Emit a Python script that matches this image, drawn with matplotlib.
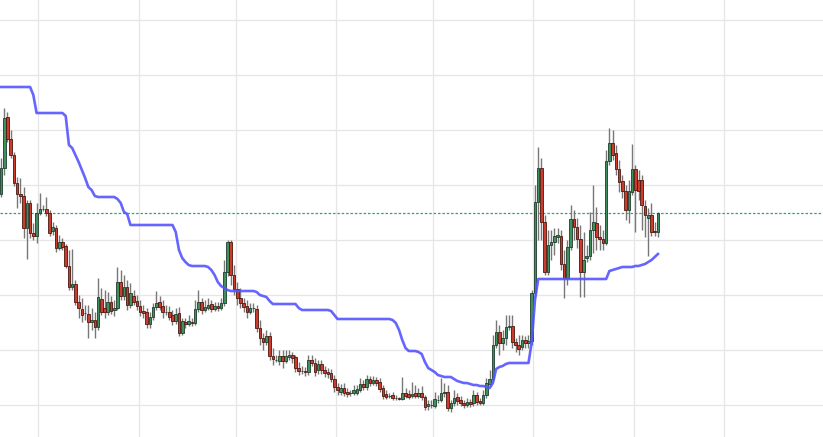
"""Daily candles with a trailing-stop line, no axis labels."""

import matplotlib
matplotlib.use("Agg")
import matplotlib.pyplot as plt
import matplotlib.dates as mdates
from matplotlib.ticker import MultipleLocator
import numpy as np
import pandas as pd

START = "2022-07-20"

opens = [
    26.6, 29.2, 34.3, 32.1, 30.5, 27.7, 26.6, 26.4, 23.2, 25.7,
    22.7, 22.4, 24.7, 25.1, 25.1, 24.7, 22.9, 23.2, 21.2, 21.8,
    21.4, 19.4, 17.3, 17.6, 15.8, 15.1, 14.7, 14.6, 13.8, 14.0,
    13.3, 16.1, 15.2, 14.8, 15.8, 15.0, 15.2, 17.8, 16.4, 17.3,
    15.5, 16.4, 15.9, 15.4, 14.9, 14.8, 13.6, 14.3, 15.3, 15.8,
    15.4, 14.8, 14.8, 14.5, 13.9, 14.7, 12.7, 13.8, 13.6, 13.8,
    13.7, 15.1, 15.8, 15.0, 15.2, 15.6, 15.1, 15.4, 15.2, 15.7,
    18.8, 21.8, 18.5, 17.1, 16.2, 15.7, 15.4, 14.8, 15.2, 15.1,
    13.2, 12.2, 11.8, 12.4, 10.4, 10.0, 9.9, 10.4, 9.9, 10.3,
    10.5, 10.3, 9.2, 8.9, 8.9, 8.8, 10.0, 9.7, 9.0, 9.6,
    9.0, 8.8, 8.7, 8.1, 7.3, 6.8, 7.2, 6.8, 6.7, 6.7,
    6.7, 7.0, 7.6, 7.3, 8.1, 7.7, 8.0, 7.8, 7.2, 6.6,
    6.4, 6.5, 6.2, 6.2, 6.1, 6.7, 6.6, 6.4, 6.7, 6.4,
    6.7, 6.3, 5.4, 5.5, 5.4, 6.0, 6.0, 6.7, 6.8, 5.2,
    5.7, 6.3, 6.0, 5.7, 5.5, 5.8, 5.7, 6.5, 5.9, 5.7,
    6.5, 7.6, 8.1, 11.5, 12.8, 11.7, 12.2, 13.3, 13.4, 11.8,
    11.5, 11.3, 12.0, 11.7, 11.9, 16.7, 25.8, 29.2, 23.8, 18.8,
    21.5, 21.8, 22.3, 22.4, 19.6, 18.2, 21.3, 24.1, 23.3, 22.1,
    18.8, 20.2, 20.4, 23.0, 23.7, 22.3, 22.1, 21.7, 29.9, 31.7,
    30.7, 29.1, 27.9, 26.9, 25.0, 26.8, 29.1, 28.0, 28.0, 25.4,
    24.2, 24.5, 22.9, 22.8,
]
highs = [
    30.2, 35.2, 34.8, 33.0, 30.8, 28.3, 28.2, 27.3, 26.0, 26.0,
    23.7, 25.7, 26.7, 25.5, 26.3, 25.0, 23.8, 23.5, 22.5, 22.2,
    21.6, 21.0, 21.1, 18.0, 16.5, 16.2, 15.5, 15.5, 15.2, 14.8,
    18.2, 17.2, 17.0, 16.8, 16.4, 16.0, 19.3, 19.0, 18.5, 18.0,
    17.7, 17.0, 16.5, 16.0, 15.5, 15.2, 14.8, 15.7, 16.9, 16.4,
    16.0, 15.5, 15.4, 15.0, 15.2, 15.3, 14.2, 14.2, 14.5, 14.2,
    16.0, 17.0, 16.2, 16.0, 16.2, 16.0, 15.8, 15.8, 16.2, 20.0,
    22.0, 22.0, 19.5, 17.8, 17.2, 16.2, 16.0, 15.7, 15.7, 15.5,
    14.0, 12.7, 13.0, 12.8, 11.2, 10.5, 11.0, 11.0, 11.0, 11.0,
    10.8, 10.5, 9.8, 9.4, 9.3, 10.5, 10.5, 10.2, 10.0, 10.0,
    9.4, 9.2, 9.1, 8.5, 7.7, 7.6, 7.7, 7.2, 7.0, 7.5,
    7.5, 8.2, 8.0, 8.5, 8.4, 8.4, 8.3, 8.2, 7.5, 7.0,
    6.7, 6.8, 6.5, 6.3, 8.3, 7.2, 7.0, 7.8, 7.5, 7.2,
    7.4, 6.5, 6.0, 6.0, 6.8, 6.5, 8.2, 7.7, 7.5, 6.0,
    7.0, 6.7, 6.4, 6.0, 6.2, 6.1, 7.0, 6.8, 6.2, 7.0,
    8.2, 9.0, 12.5, 14.0, 13.5, 13.0, 14.5, 14.5, 14.5, 12.2,
    12.5, 12.5, 12.4, 12.5, 17.0, 27.5, 31.3, 30.2, 24.5, 23.0,
    23.0, 23.2, 23.2, 23.0, 21.0, 22.0, 25.5, 25.0, 24.2, 23.5,
    22.8, 21.5, 24.8, 27.5, 25.3, 23.5, 23.0, 31.0, 33.2, 33.0,
    31.5, 30.0, 28.5, 27.5, 28.0, 31.6, 29.5, 29.0, 28.5, 26.0,
    25.2, 25.7, 23.8, 24.8,
]
lows = [
    26.3, 28.5, 31.8, 30.2, 27.4, 25.2, 25.7, 22.2, 20.1, 22.2,
    22.0, 21.7, 24.5, 24.9, 24.4, 22.4, 22.5, 20.8, 21.0, 21.0,
    19.2, 17.0, 17.0, 15.5, 14.2, 13.8, 14.0, 12.2, 13.0, 12.2,
    13.0, 14.5, 14.2, 14.5, 14.6, 14.4, 15.0, 16.0, 16.0, 15.0,
    15.2, 15.5, 15.0, 14.4, 14.2, 13.2, 13.2, 14.0, 15.0, 15.0,
    14.2, 14.5, 14.0, 13.5, 13.6, 12.4, 12.5, 13.2, 13.4, 13.4,
    13.5, 14.8, 14.6, 14.8, 15.0, 14.8, 14.9, 14.9, 15.0, 15.4,
    18.4, 17.5, 16.5, 15.5, 15.2, 14.8, 14.2, 14.6, 14.8, 12.8,
    11.5, 11.0, 11.5, 10.0, 9.5, 9.8, 9.5, 9.2, 9.7, 10.0,
    9.7, 8.8, 8.5, 8.6, 8.4, 8.5, 9.4, 8.4, 8.6, 8.6,
    8.3, 8.2, 7.8, 6.8, 6.5, 6.5, 6.4, 6.3, 6.4, 6.5,
    6.5, 6.8, 7.0, 7.0, 7.4, 7.5, 7.4, 6.8, 6.1, 6.1,
    6.2, 6.0, 6.0, 6.0, 6.0, 6.2, 6.1, 6.2, 6.2, 6.2,
    6.0, 5.0, 5.0, 5.2, 5.2, 5.7, 5.8, 6.3, 4.9, 4.8,
    5.4, 5.5, 5.4, 5.2, 5.3, 5.3, 5.4, 5.5, 5.5, 5.5,
    6.2, 7.4, 7.9, 11.2, 10.5, 11.0, 11.5, 13.0, 11.2, 10.8,
    10.5, 11.0, 11.2, 11.2, 11.5, 16.3, 22.0, 22.0, 18.5, 18.5,
    20.0, 20.5, 21.7, 19.0, 16.2, 17.5, 21.0, 22.0, 21.2, 16.3,
    16.3, 19.8, 20.0, 20.7, 21.0, 21.0, 21.0, 21.5, 29.5, 30.0,
    28.5, 26.8, 26.2, 24.0, 23.7, 26.5, 22.8, 26.0, 23.0, 22.3,
    20.4, 22.4, 22.4, 22.3,
]
closes = [
    29.2, 34.2, 32.1, 30.5, 27.7, 26.6, 26.4, 23.2, 25.7, 22.7,
    22.4, 24.7, 25.1, 25.1, 24.7, 22.7, 23.3, 21.2, 21.8, 21.3,
    19.4, 17.3, 17.6, 15.8, 15.2, 14.5, 14.7, 13.8, 14.0, 13.3,
    16.3, 14.8, 14.8, 15.8, 14.9, 15.2, 17.8, 16.4, 17.3, 15.5,
    16.7, 15.8, 15.4, 14.8, 14.7, 13.6, 14.3, 15.3, 15.7, 15.3,
    14.8, 14.8, 14.3, 13.9, 14.6, 12.7, 13.9, 13.6, 13.9, 13.7,
    15.1, 15.8, 15.0, 15.3, 15.5, 15.1, 15.4, 15.2, 15.7, 18.8,
    21.8, 18.5, 17.1, 16.2, 15.7, 15.3, 14.8, 15.2, 15.2, 13.2,
    12.2, 11.8, 12.4, 10.4, 10.1, 10.0, 10.4, 9.9, 10.4, 10.5,
    10.2, 9.2, 8.9, 8.9, 8.8, 10.0, 9.7, 8.8, 9.6, 9.0,
    8.7, 8.6, 8.1, 7.3, 7.0, 7.2, 6.7, 6.6, 6.7, 7.0,
    7.1, 7.6, 7.3, 8.1, 7.7, 8.0, 7.7, 7.1, 6.4, 6.3,
    6.4, 6.2, 6.2, 6.1, 6.7, 6.4, 6.3, 6.6, 6.4, 6.7,
    6.3, 5.3, 5.6, 5.5, 6.1, 6.0, 6.7, 6.8, 5.2, 5.7,
    6.2, 5.9, 5.7, 5.5, 5.8, 5.6, 6.5, 5.8, 5.7, 6.5,
    7.7, 8.1, 11.5, 12.8, 11.7, 12.2, 13.3, 13.4, 11.8, 11.5,
    11.1, 12.0, 11.7, 11.9, 16.7, 25.8, 29.2, 23.8, 18.8, 21.5,
    21.8, 22.4, 22.5, 19.6, 18.2, 21.3, 24.1, 23.3, 22.1, 18.8,
    20.0, 20.4, 23.0, 23.8, 22.3, 22.1, 21.7, 29.9, 31.7, 30.5,
    29.1, 27.8, 26.9, 25.0, 26.9, 29.1, 27.0, 26.9, 25.5, 24.5,
    24.5, 22.8, 22.8, 24.7,
]
trail = [
    37.3, 37.3, 37.3, 37.3, 37.3, 37.3, 37.3, 37.3, 37.3, 37.3,
    36.5, 34.7, 34.7, 34.7, 34.7, 34.7, 34.7, 34.7, 34.7, 34.7,
    34.4, 31.5, 31.2, 30.5, 29.8, 29.0, 28.2, 27.3, 27.0, 26.4,
    26.3, 26.3, 26.3, 26.3, 26.3, 26.3, 26.1, 25.7, 24.8, 24.6,
    23.5, 23.5, 23.5, 23.5, 23.5, 23.5, 23.5, 23.5, 23.5, 23.5,
    23.5, 23.5, 23.5, 23.5, 22.8, 21.0, 20.2, 19.8, 19.5, 19.4,
    19.4, 19.4, 19.4, 19.4, 19.3, 19.0, 18.5, 17.8, 17.4, 17.2,
    17.0, 16.9, 16.9, 16.9, 16.9, 16.9, 16.9, 16.9, 16.9, 16.8,
    16.5, 16.4, 16.3, 15.9, 15.6, 15.6, 15.6, 15.6, 15.6, 15.6,
    15.6, 15.6, 15.2, 15.0, 15.0, 15.0, 15.0, 15.0, 15.0, 15.0,
    15.0, 15.0, 14.9, 14.5, 14.1, 14.1, 14.1, 14.1, 14.1, 14.1,
    14.1, 14.1, 14.1, 14.1, 14.1, 14.1, 14.1, 14.1, 14.1, 14.1,
    14.1, 14.0, 13.7, 13.0, 12.0, 11.2, 10.9, 10.9, 10.9, 10.8,
    10.6, 9.8, 9.2, 9.0, 8.8, 8.5, 8.4, 8.3, 8.3, 8.3,
    8.1, 7.9, 7.8, 7.7, 7.7, 7.6, 7.5, 7.5, 7.4, 7.4,
    7.3, 7.2, 7.7, 9.1, 9.3, 9.4, 9.6, 9.7, 9.7, 9.7,
    9.7, 9.7, 9.7, 9.7, 11.8, 16.0, 18.1, 18.1, 18.1, 18.1,
    18.1, 18.1, 18.1, 18.1, 18.1, 18.1, 18.1, 18.1, 18.1, 18.1,
    18.1, 18.1, 18.1, 18.1, 18.1, 18.1, 18.1, 18.1, 18.9, 19.0,
    19.1, 19.2, 19.3, 19.3, 19.3, 19.3, 19.4, 19.4, 19.5, 19.6,
    19.8, 20.0, 20.3, 20.6,
]

UP_FACE = "#3f8f5f"
UP_EDGE = "#1d3d2a"
DOWN_FACE = "#cc3b2c"
DOWN_EDGE = "#4a1810"
WICK = "#777777"
TRAIL = "#5555ff"
LAST = "#35a070"
GRID = "#e6e6e6"

dates = pd.date_range(START, periods=len(closes), freq="D")
xs = mdates.date2num(dates) + 0.5
o = np.array(opens)
c = np.array(closes)
up = c >= o

fig = plt.figure(figsize=(8.23, 4.37), dpi=100)
ax = fig.add_axes([0, 0, 1, 1])

ax.vlines(xs, lows, highs, color=WICK, linewidth=1.0, zorder=2)
body = np.where(np.abs(c - o) < 0.05, 0.05, c - o)
ax.bar(xs[up], body[up], bottom=o[up], width=0.8,
       color=UP_FACE, edgecolor=UP_EDGE, linewidth=0.6, zorder=3)
ax.bar(xs[~up], body[~up], bottom=o[~up], width=0.8,
       color=DOWN_FACE, edgecolor=DOWN_EDGE, linewidth=0.6, zorder=3)

ax.plot(xs, trail, color=TRAIL, linewidth=1.9, alpha=0.9, zorder=4)
ax.axhline(closes[-1], color=LAST, linewidth=0.9, linestyle=(0, (2, 1.5)), zorder=1)

ax.set_xlim(xs[0] - 0.3, xs[0] + 254.0)
ax.set_ylim(2.3, 46.0)
ax.xaxis.set_major_locator(mdates.MonthLocator())
ax.yaxis.set_major_locator(MultipleLocator(5.5))
ax.grid(True, color=GRID, linewidth=0.9, zorder=0)
ax.set_axisbelow(True)
ax.tick_params(length=0, labelbottom=False, labelleft=False)
for s in ax.spines.values():
    s.set_visible(False)

fig.savefig("out.png", dpi=100, facecolor="white")
